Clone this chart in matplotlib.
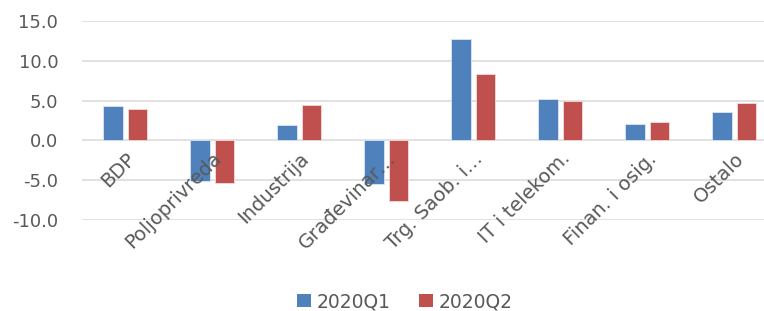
import numpy as np
import matplotlib
matplotlib.use("Agg")
import matplotlib.pyplot as plt
import matplotlib.transforms as mtransforms
from matplotlib.patches import Patch

plt.rcParams['font.family'] = ['DejaVu Sans']
plt.rcParams['axes.unicode_minus'] = False

# Podaci (procijenjeno sa slike)
kategorije = ['BDP', 'Poljoprivreda', 'Industrija', 'Građevinar…', 'Trg. Saob. i…',
              'IT i telekom.', 'Finan. i osig.', 'Ostalo']
q1 = [4.3, -5.1, 1.9, -5.5, 12.7, 5.2, 2.0, 3.6]
q2 = [3.9, -5.3, 4.5, -7.6, 8.4, 4.9, 2.35, 4.7]
serije = ['2020Q1', '2020Q2']
y_tickovi = [-10, -5, 0, 5, 10, 15]
boje = ['#4F81BD', '#C0504D']
tekst_boja = '#595959'

fig = plt.figure(figsize=(7.64, 3.11), dpi=100)
ax = fig.add_axes([0.107, 0.2926, 0.911, 0.640])

x = np.arange(len(kategorije))
w = 0.225
ax.bar(x - 0.14, q1, width=w, color=boje[0], edgecolor='#DCE6F2', linewidth=0.6, zorder=2)
ax.bar(x + 0.14, q2, width=w, color=boje[1], edgecolor='#F2DCDB', linewidth=0.6, zorder=2)

# mreza ispod stupaca, natpisi iznad
for v in y_tickovi:
    ax.axhline(v, color='#D9D9D9', linewidth=1.1, zorder=0)

ax.set_xlim(-0.5, len(kategorije) - 0.5)
ax.set_ylim(-10, 15)
ax.set_yticks(y_tickovi)
ax.set_yticklabels([f'{v:.1f}' for v in y_tickovi])
ax.set_axisbelow(False)
for s in ax.spines.values():
    s.set_visible(False)

# kategorije uz nultu liniju
ax.spines['bottom'].set_position(('data', 0))
ax.set_xticks(x)
ax.set_xticklabels(kategorije, rotation=45, ha='right', va='top',
                   rotation_mode='anchor', fontsize=14, color=tekst_boja)
pomak = mtransforms.ScaledTranslation(-7 / 100, 0, fig.dpi_scale_trans)
for lbl in ax.get_xticklabels():
    lbl.set_transform(lbl.get_transform() + pomak)
ax.tick_params(axis='x', length=0, pad=6)
ax.tick_params(axis='y', length=0, pad=17, labelsize=13, labelcolor=tekst_boja)

handles = [Patch(facecolor=b, edgecolor='none') for b in boje]
fig.legend(handles, serije, loc='center', bbox_to_anchor=(0.53, 0.03), ncol=2,
           frameon=False, fontsize=13.5, labelcolor=tekst_boja,
           handlelength=0.75, handleheight=0.75, handletextpad=0.3, columnspacing=1.5)

fig.savefig('out.png', dpi=100)
